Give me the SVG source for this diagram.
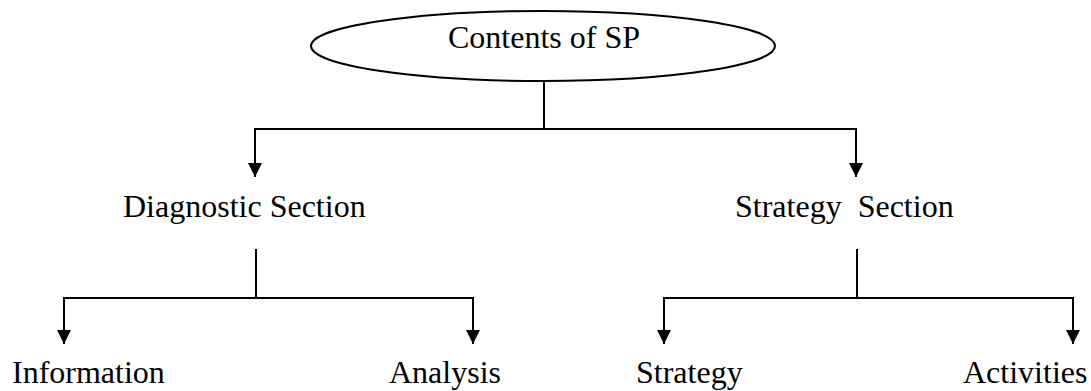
<svg xmlns="http://www.w3.org/2000/svg" width="1091" height="391" viewBox="0 0 1091 391">
<style>
text{font-family:"Liberation Serif","Times New Roman",serif;font-size:32px;fill:#000}
.c{fill:none;stroke:#000;stroke-width:2}
</style>
<defs>
<marker id="ah" viewBox="0 0 14 15" refX="14" refY="7" markerWidth="14" markerHeight="15" markerUnits="userSpaceOnUse" orient="auto"><path d="M0,0 L14,7 L0,14 Z" fill="#000"/></marker>
</defs>
<rect width="1091" height="391" fill="#fff"/>
<g id="root"><ellipse cx="543" cy="46" rx="232" ry="35" fill="none" stroke="#000" stroke-width="2"/><text x="448" y="48">Contents of SP</text></g>
<g id="diag"><text x="123" y="217">Diagnostic Section</text></g>
<g id="strat"><text x="735" y="217" xml:space="preserve">Strategy  Section</text></g>
<g id="info"><text x="12" y="383">Information</text></g>
<g id="analysis"><text x="389" y="383">Analysis</text></g>
<g id="strategy"><text x="636" y="383">Strategy</text></g>
<g id="activities"><text x="963" y="383">Activities</text></g>
<g id="connectors">
<path class="c" d="M544,81 V129"/>
<path class="c" d="M544,129 H255 V177" marker-end="url(#ah)"/>
<path class="c" d="M544,129 H856 V177" marker-end="url(#ah)"/>
<path class="c" d="M256,249 V298"/>
<path class="c" d="M256,298 H64 V344" marker-end="url(#ah)"/>
<path class="c" d="M256,298 H473 V344" marker-end="url(#ah)"/>
<path class="c" d="M857,249 V298"/>
<path class="c" d="M857,298 H664 V344" marker-end="url(#ah)"/>
<path class="c" d="M857,298 H1073 V344" marker-end="url(#ah)"/>
</g>
</svg>
